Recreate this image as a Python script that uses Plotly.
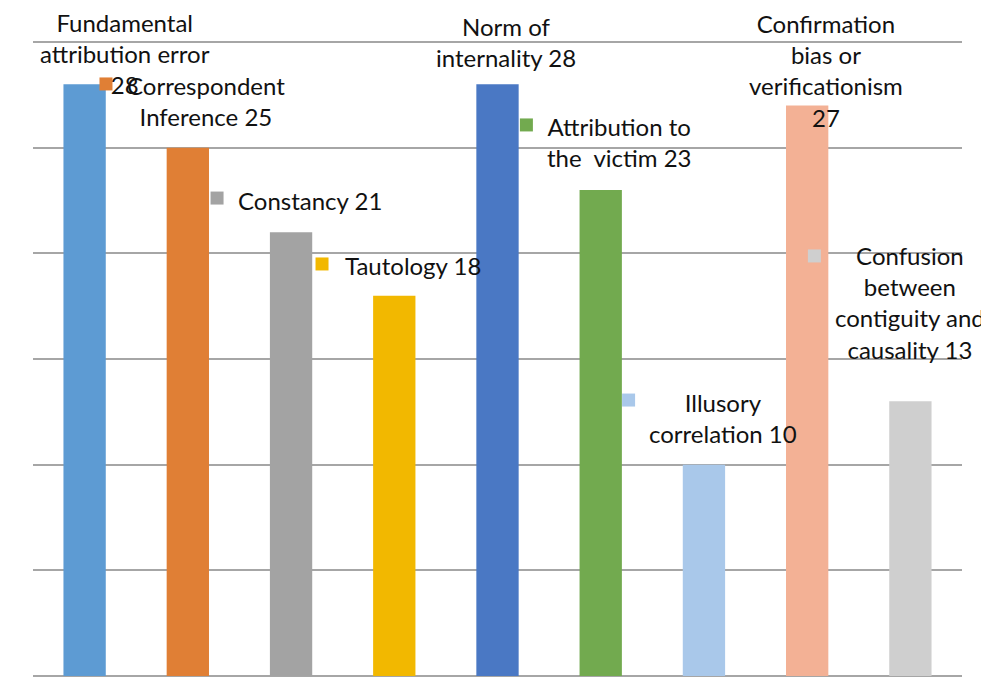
import plotly.graph_objects as go

# Attribution biases - counts
categories = ["Fundamental attribution error", "Correspondent Inference", "Constancy",
              "Tautology", "Norm of internality", "Attribution to the victim",
              "Illusory correlation", "Confirmation bias or verificationism",
              "Confusion between contiguity and causality"]
values = [28, 25, 21, 18, 28, 23, 10, 27, 13]
label_texts = ["Fundamental<br>attribution error<br>28",
               "Correspondent<br>Inference 25",
               "Constancy 21",
               "Tautology 18",
               "Norm of<br>internality 28",
               "Attribution to<br>the  victim 23",
               "Illusory<br>correlation 10",
               "Confirmation<br>bias or<br>verificationism<br>27",
               "Confusion<br>between<br>contiguity and<br>causality 13"]
bar_colors = ["#5d9bd3", "#e07f35", "#a3a3a3", "#f2b800", "#4a78c4",
              "#72aa4f", "#a9c8ea", "#f3b195", "#cfcfcf"]

# label placement (x in category units, y in paper fraction) and legend-key squares
label_x = [0.39, 1.18, 2.18, 3.18, 4.08, 5.18, 6.18, 7.18, 8.0]
label_y = [0.979, 0.904, 0.747, 0.645, 0.997, 0.839, 0.406, 0.952, 0.588]
key_x = [-0.645, 0.207, 1.283, 2.30, 3.20, 4.28, 5.27, 6.215, 7.07]
key_y = [31.05, 28.02, 22.62, 19.50, 30.81, 26.08, 13.06, 30.95, 19.88]

idx = list(range(len(values)))

fig = go.Figure()
fig.add_trace(go.Bar(x=idx, y=values, width=0.41, marker=dict(color=bar_colors, line=dict(width=0)),
                     hovertext=categories, showlegend=False))
fig.add_trace(go.Scatter(x=key_x, y=key_y, mode='markers', cliponaxis=False, showlegend=False,
                         marker=dict(symbol='square', size=13, color=bar_colors, line=dict(width=0))))

for x, y, t in zip(label_x, label_y, label_texts):
    fig.add_annotation(x=x, y=y, xref='x', yref='paper', text=t, showarrow=False,
                       xanchor='center', yanchor='middle', align='center',
                       font=dict(family='Lato', size=24, color='#111111'))

# page body has an 8px margin, so the figure is a bit smaller than the window
fig.update_layout(
    width=981,
    height=674,
    margin=dict(l=25, r=27, t=32, b=6),
    plot_bgcolor='white',
    paper_bgcolor='white',
    xaxis=dict(range=[-0.5, 8.5], showticklabels=False, showgrid=False, zeroline=False),
    yaxis=dict(range=[0, 30.1], tick0=0, dtick=5, showticklabels=False, showgrid=True,
               gridcolor='#a6a6a6', gridwidth=1.5, zeroline=True, zerolinecolor='#a6a6a6',
               zerolinewidth=1.5, showline=False)
)
fig.write_html("out.html")
